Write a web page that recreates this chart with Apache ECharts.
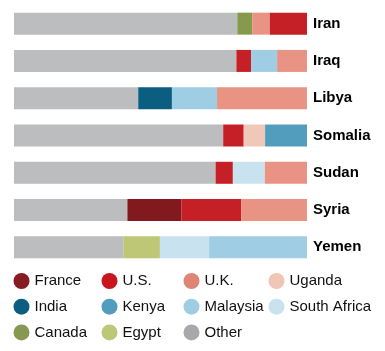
<!DOCTYPE html>
<html><head><meta charset="utf-8">
<script src="https://cdn.jsdelivr.net/npm/echarts@6/dist/echarts.min.js"></script>
<style>html,body{margin:0;padding:0;background:#fff}#c{width:385px;height:351px}</style>
</head><body><div id="c"></div>
<script>
const categories = ['Iran','Iraq','Libya','Somalia','Sudan','Syria','Yemen'];
// shares (%) per contributor, by category
const other       = [76.2, 75.9, 42.4, 71.4, 68.8, 38.7, 37.3];
const canada      = [5.1, null, null, null, null, null, null];
const usa         = [12.7, 5.0, null, 7.0, 5.9, 20.4, null];
const uk          = [6.0, 10.2, 30.7, null, 14.4, 22.5, null];
const malaysia    = [null, 8.9, 15.4, null, null, null, 33.4];
const india       = [null, null, 11.5, null, null, null, null];
const uganda      = [null, null, null, 7.3, null, null, null];
const kenya       = [null, null, null, 14.3, null, null, null];
const southAfrica = [null, null, null, null, 10.9, null, 16.8];
const france      = [null, null, null, null, null, 18.4, null];
const egypt       = [null, null, null, null, null, null, 12.5];
// segment order within each bar, left to right
const segmentOrder = [
  ['Other','Canada','U.K.','U.S.'],
  ['Other','U.S.','Malaysia','U.K.'],
  ['Other','India','Malaysia','U.K.'],
  ['Other','U.S.','Uganda','Kenya'],
  ['Other','U.S.','South Africa','U.K.'],
  ['Other','France','U.S.','U.K.'],
  ['Other','Egypt','South Africa','Malaysia']
];
const legendColumns = [
  ['France','India','Canada'],
  ['U.S.','Kenya','Egypt'],
  ['U.K.','Malaysia','Other'],
  ['Uganda','South Africa']
];

const values = {'Other':other,'Canada':canada,'U.S.':usa,'U.K.':uk,'Malaysia':malaysia,'India':india,
  'Uganda':uganda,'Kenya':kenya,'South Africa':southAfrica,'France':france,'Egypt':egypt};
const barColors = {'Other':'#bcbdbf','Canada':'#87994c','U.K.':'#e99385','U.S.':'#c42026','Malaysia':'#9ecde4',
  'India':'#0b5e80','Uganda':'#f0c8b8','Kenya':'#529dbd','South Africa':'#c9e2f0','France':'#82191e','Egypt':'#bdc776'};
const legendColors = {'Other':'#a8a8ac','Canada':'#869852','U.K.':'#e08478','U.S.':'#c8161e','Malaysia':'#9ecde4',
  'India':'#0b5e80','Uganda':'#f0c5b5','Kenya':'#529dbd','South Africa':'#c9e2f0','France':'#841c22','Egypt':'#bdc777'};

const font = '"Liberation Sans", Arial, Helvetica, sans-serif';
const series = [];
for (let k = 0; k < 4; k++) {
  series.push({
    type: 'bar', stack: 'total', barWidth: 22, silent: true,
    data: categories.map((c, i) => {
      const n = segmentOrder[i][k];
      return { value: values[n][i], itemStyle: { color: barColors[n] } };
    })
  });
}
Object.keys(values).forEach(n => {
  series.push({ type: 'bar', stack: 'total', barWidth: 22, name: n, data: [], color: legendColors[n] });
});
const colLeft = [13.5, 101.5, 183.5, 268.5];
const legends = legendColumns.map((col, j) => ({
  orient: 'vertical', left: colLeft[j], top: 273, itemWidth: 16, itemHeight: 16, itemGap: 9.7,
  icon: 'circle', padding: 0, selectedMode: false,
  textStyle: { fontSize: 15, color: '#111', fontFamily: font },
  data: col.map(n => ({ name: n, itemStyle: { color: legendColors[n] } }))
}));

const chart = echarts.init(document.getElementById('c'), null, { renderer: 'canvas' });
chart.setOption({
  animation: false,
  grid: { left: 14, right: 78, top: 5, bottom: 85 },
  xAxis: { type: 'value', min: 0, max: 100, show: false },
  yAxis: {
    type: 'category', data: categories, inverse: true, position: 'right',
    axisLine: { show: false }, axisTick: { show: false },
    axisLabel: { margin: 6, fontSize: 15, fontWeight: 'bold', color: '#000', fontFamily: font }
  },
  legend: legends,
  series: series
});
</script></body></html>
